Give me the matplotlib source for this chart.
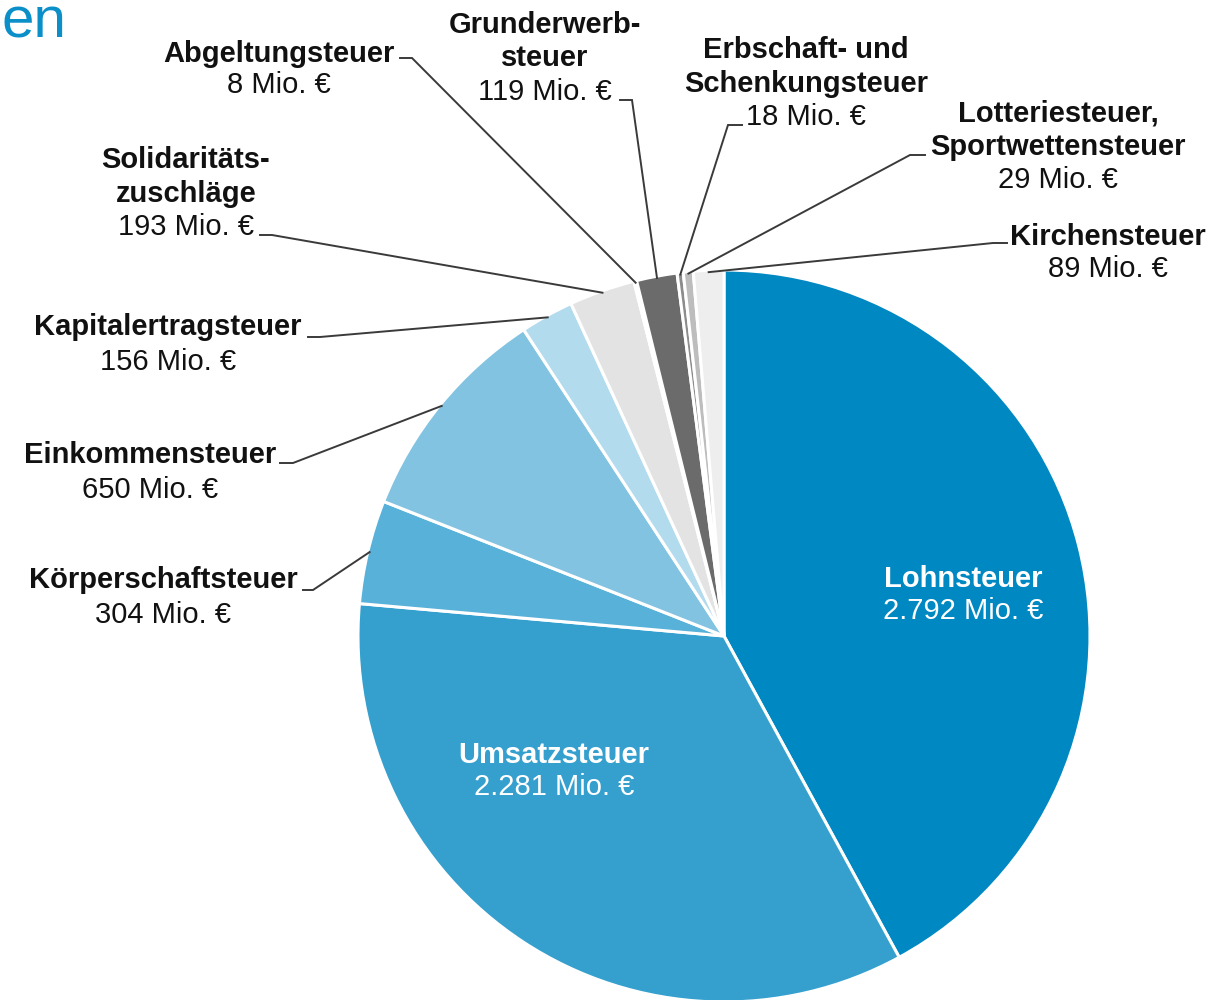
import matplotlib
matplotlib.use('Agg')
import matplotlib.pyplot as plt
import numpy as np

plt.rcParams['font.family'] = ['Liberation Sans', 'DejaVu Sans']

# ---------------- data ----------------
categories = ['Lohnsteuer', 'Umsatzsteuer', 'Körperschaftsteuer', 'Einkommensteuer',
              'Kapitalertragsteuer', 'Solidaritätszuschläge', 'Abgeltungsteuer',
              'Grunderwerbsteuer', 'Erbschaft- und Schenkungsteuer',
              'Lotteriesteuer, Sportwettensteuer', 'Kirchensteuer']
values = [2792, 2281, 304, 650, 156, 193, 8, 119, 18, 29, 89]
value_labels = ['2.792 Mio. €', '2.281 Mio. €', '304 Mio. €', '650 Mio. €', '156 Mio. €',
                '193 Mio. €', '8 Mio. €', '119 Mio. €', '18 Mio. €', '29 Mio. €', '89 Mio. €']
name_lines = [['Lohnsteuer'], ['Umsatzsteuer'], ['Körperschaftsteuer'], ['Einkommensteuer'],
              ['Kapitalertragsteuer'], ['Solidaritäts-', 'zuschläge'], ['Abgeltungsteuer'],
              ['Grunderwerb-', 'steuer'], ['Erbschaft- und', 'Schenkungsteuer'],
              ['Lotteriesteuer,', 'Sportwettensteuer'], ['Kirchensteuer']]
colors = ['#0088c2', '#35a0ce', '#58b1d9', '#82c3e2', '#b2dbee', '#e3e3e3',
          '#f2f2f2', '#6b6b6b', '#8c8c8c', '#bdbdbd', '#eeeeee']

# ---------------- layout (pixel coordinates, y from top) ----------------
W, H = 1219, 1000
cx, cy, R = 724, 636, 366
# label block: x centre, first baseline, line spacing, text colour
label_pos = [
    (963, 587, 32, 'white'),
    (554, 763, 32, 'white'),
    (163, 588, 35, '#111111'),
    (150, 463, 35, '#111111'),
    (168, 335, 35, '#111111'),
    (186, 168, 33.5, '#111111'),
    (279, 62, 31, '#111111'),
    (545, 33, 33.5, '#111111'),
    (806, 58, 33.5, '#111111'),
    (1058, 122, 33, '#111111'),
    (1108, 245, 32, '#111111'),
]
# leader elbows: (x start, x end of short horizontal, y)
elbows = [None, None,
          (303, 313, 590), (280, 293, 463), (308, 320, 337), (260, 272, 235),
          (400, 412, 58), (620, 632, 100), (742, 728, 125), (925, 910, 155),
          (1007, 993, 243)]

fig = plt.figure(figsize=(W / 100, H / 100), dpi=100)
ax = fig.add_axes([0, 0, 1, 1])

def Y(y):
    return H - y

wedges, _ = ax.pie(values, colors=colors, startangle=90, counterclock=False,
                   center=(cx, Y(cy)), radius=R,
                   wedgeprops=dict(edgecolor='white', linewidth=2.2))

ax.set_xlim(0, W)
ax.set_ylim(0, H)
ax.set_aspect('equal')
ax.axis('off')

fs = 21
for i, (names, val) in enumerate(zip(name_lines, value_labels)):
    x, y0, sp, col = label_pos[i]
    lines = [(n, 'bold') for n in names] + [(val, 'normal')]
    for k, (t, w) in enumerate(lines):
        ax.text(x, Y(y0 + k * sp), t, ha='center', va='baseline', fontsize=fs,
                fontweight=w, color=col)
    if elbows[i] is not None:
        xs, xe, ye = elbows[i]
        w_ = wedges[i]
        mid = np.deg2rad((w_.theta1 + w_.theta2) / 2)
        px = cx + 0.995 * R * np.cos(mid)
        py = Y(cy) + 0.995 * R * np.sin(mid)
        ax.plot([xs, xe, px], [Y(ye), Y(ye), py], color='#3a3a3a', lw=1.4,
                solid_joinstyle='miter')

# title fragment (left part of the title lies outside the picture in the reference)
ax.text(1, Y(38), 'en', ha='left', va='baseline', fontsize=42,
        color='#0a8fc9', fontweight='light')

fig.savefig('out.png', dpi=100)
